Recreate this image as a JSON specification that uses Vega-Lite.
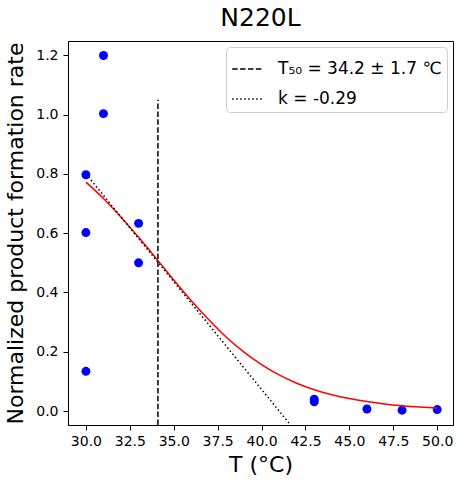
{
  "$schema": "https://vega.github.io/schema/vega-lite/v6.json",
  "width": 385,
  "height": 384,
  "autosize": {"type": "none"},
  "padding": {"left": 68, "top": 41, "right": 11, "bottom": 62},
  "background": "white",
  "title": {"text": "N220L", "fontSize": 25, "font": "DejaVu Sans", "fontWeight": "normal", "anchor": "middle", "offset": 10, "color": "black"},
  "config": {
    "view": {"stroke": "black", "strokeWidth": 1},
    "axis": {
      "grid": false,
      "domainColor": "black",
      "tickColor": "black",
      "tickSize": 5,
      "labelFont": "DejaVu Sans",
      "labelFontSize": 14,
      "labelColor": "black",
      "labelPadding": 4,
      "titleFont": "DejaVu Sans",
      "titleFontSize": 22,
      "titleFontWeight": "normal",
      "titleColor": "black"
    },
    "legend": {
      "labelFont": "DejaVu Sans",
      "labelFontSize": 17,
      "labelColor": "black",
      "labelLimit": 300
    }
  },
  "data": {
    "values": [
      {"kind": "obs", "T": 30, "rate": 0.797},
      {"kind": "obs", "T": 30, "rate": 0.602},
      {"kind": "obs", "T": 30, "rate": 0.134},
      {"kind": "obs", "T": 31, "rate": 1.199},
      {"kind": "obs", "T": 31, "rate": 1.003},
      {"kind": "obs", "T": 33, "rate": 0.633},
      {"kind": "obs", "T": 33, "rate": 0.5},
      {"kind": "obs", "T": 43, "rate": 0.04},
      {"kind": "obs", "T": 43, "rate": 0.031},
      {"kind": "obs", "T": 46, "rate": 0.007},
      {"kind": "obs", "T": 48, "rate": 0.003},
      {"kind": "obs", "T": 50, "rate": 0.005},
      {"kind": "fit", "T": 30, "rate": 0.772},
      {"kind": "fit", "T": 31, "rate": 0.717},
      {"kind": "fit", "T": 32, "rate": 0.654},
      {"kind": "fit", "T": 33, "rate": 0.586},
      {"kind": "fit", "T": 34, "rate": 0.515},
      {"kind": "fit", "T": 35, "rate": 0.442},
      {"kind": "fit", "T": 36, "rate": 0.372},
      {"kind": "fit", "T": 37, "rate": 0.308},
      {"kind": "fit", "T": 38, "rate": 0.249},
      {"kind": "fit", "T": 39, "rate": 0.199},
      {"kind": "fit", "T": 40, "rate": 0.157},
      {"kind": "fit", "T": 41, "rate": 0.122},
      {"kind": "fit", "T": 42, "rate": 0.094},
      {"kind": "fit", "T": 43, "rate": 0.072},
      {"kind": "fit", "T": 44, "rate": 0.055},
      {"kind": "fit", "T": 45, "rate": 0.042},
      {"kind": "fit", "T": 46, "rate": 0.032},
      {"kind": "fit", "T": 47, "rate": 0.024},
      {"kind": "fit", "T": 48, "rate": 0.018},
      {"kind": "fit", "T": 49, "rate": 0.0135},
      {"kind": "fit", "T": 50, "rate": 0.0101},
      {"kind": "t50", "T": 34.1, "rate": -0.047, "rate2": 1.05, "series": "T₅₀ = 34.2 ± 1.7 ℃"},
      {"kind": "slope", "T": 30, "rate": 0.8, "series": "k = -0.29"},
      {"kind": "slope", "T": 41.65, "rate": -0.047, "series": "k = -0.29"}
    ]
  },
  "encoding": {
    "x": {
      "field": "T",
      "type": "quantitative",
      "title": "T (°C)",
      "scale": {"domain": [28.98, 50.9], "nice": false, "zero": false},
      "axis": {"values": [30, 32.5, 35, 37.5, 40, 42.5, 45, 47.5, 50], "format": ".1f", "titlePadding": 6}
    },
    "y": {
      "field": "rate",
      "type": "quantitative",
      "title": "Normalized product formation rate",
      "scale": {"domain": [-0.047, 1.248], "nice": false, "zero": false},
      "axis": {"values": [0, 0.2, 0.4, 0.6, 0.8, 1.0, 1.2], "format": ".1f", "titlePadding": 8, "labelPadding": 5}
    }
  },
  "layer": [
    {
      "transform": [{"filter": "datum.kind == 'obs'"}],
      "mark": {"type": "point", "shape": "circle", "filled": true, "color": "#0000ff", "size": 80, "opacity": 1}
    },
    {
      "transform": [{"filter": "datum.kind == 'fit'"}],
      "mark": {"type": "line", "color": "#ff0000", "strokeWidth": 1.5, "interpolate": "monotone"}
    },
    {
      "transform": [{"filter": "datum.kind == 't50'"}],
      "mark": {"type": "rule", "color": "black", "strokeWidth": 1.5},
      "encoding": {
        "y2": {"field": "rate2"},
        "strokeDash": {
          "field": "series",
          "type": "nominal",
          "scale": {"domain": ["T₅₀ = 34.2 ± 1.7 ℃", "k = -0.29"], "range": [[5.5, 2.4], [1.5, 2.5]]},
          "legend": {
            "title": null,
            "orient": "top-right",
            "offset": 6,
            "symbolType": "stroke",
            "symbolStrokeColor": "black",
            "symbolStrokeWidth": 1.5,
            "symbolSize": 1000,
            "labelOffset": 13,
            "rowPadding": 5,
            "padding": 5,
            "strokeColor": "#cccccc",
            "fillColor": "white",
            "cornerRadius": 4
          }
        }
      }
    },
    {
      "transform": [{"filter": "datum.kind == 'slope'"}],
      "mark": {"type": "line", "color": "black", "strokeWidth": 1.5, "clip": true},
      "encoding": {
        "strokeDash": {"field": "series", "type": "nominal"}
      }
    }
  ]
}
